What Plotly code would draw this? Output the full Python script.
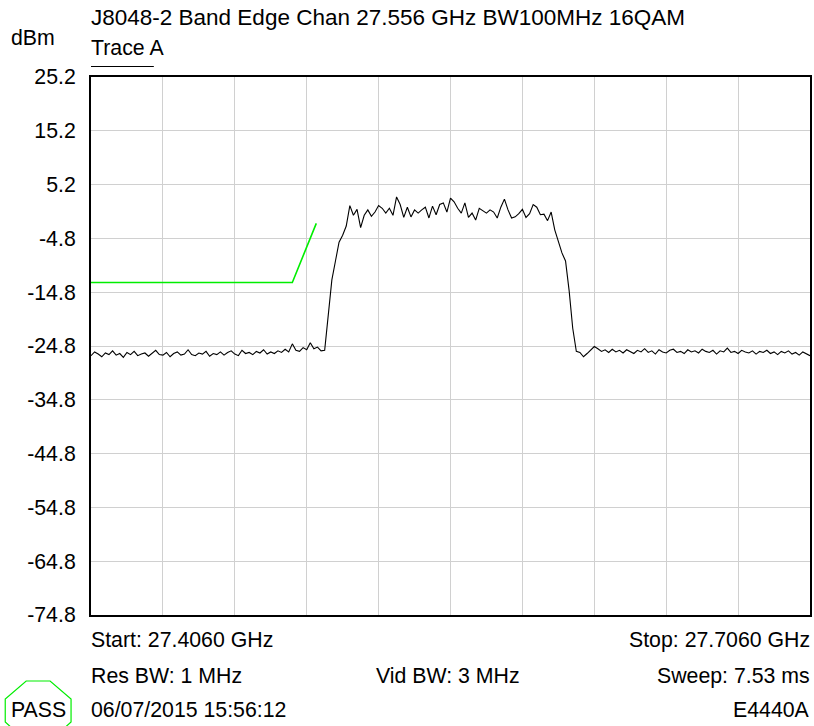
import numpy as np
import plotly.graph_objects as go

# ---------------- data ----------------
start_ghz = 27.406
stop_ghz = 27.706
n_points = 201
freq_ghz = np.linspace(start_ghz, stop_ghz, n_points)

noise_left = [
    -26.6, -25.9, -26.3, -26.8, -26.1, -26.4, -25.7, -26.5, -26.2, -26.9,
    -26.0, -26.4, -25.8, -26.6, -26.3, -26.1, -26.7, -26.2, -25.6, -26.4,
    -26.5, -26.0, -26.8, -26.2, -25.9, -26.5, -26.3, -25.5, -26.4, -26.6,
    -26.1, -26.3, -25.8, -26.7, -26.2, -26.4, -25.9, -26.5, -26.0, -25.7,
    -26.3, -26.6, -25.6, -26.2, -26.0, -26.4, -25.8, -26.1, -25.5, -26.3,
    -25.9, -26.2, -25.7, -26.0, -25.4, -25.9, -24.4, -25.6, -25.8, -25.1,
    -25.5, -24.2, -25.3, -25.0, -25.7,
]
channel = [
    -25.6, -19.5, -12.5, -9.0, -5.5, -4.2, -2.5, 1.3, -0.5, 0.6,
    -2.8, -0.5, 0.5, -0.7, 0.1, 1.3, 0.8, -0.1, 0.8, -0.5,
    2.9, 1.5, -0.9, 1.0, -0.8, 0.5, -0.1, 0.5, 1.0, -1.0,
    1.2, -0.4, 1.5, 1.8, 0.1, 2.7, 2.0, 0.8, -0.1, 1.8,
    -0.9, -0.1, -1.4, 0.8, 0.4, -0.1, 0.5, 0.1, -1.0, 1.0,
    2.5, 0.5, -1.0, -0.8, -0.2, 0.6, -0.9, -0.2, 1.5, 1.0,
    -0.4, -0.3, -1.5, 0.1, -3.2, -5.5, -7.5, -9.0, -14.5, -21.5,
    -25.8, -26.0, -26.8, -26.2, -25.6, -24.9,
]
noise_right = [
    -25.3, -25.8, -25.5, -26.0, -25.4, -25.9, -25.6, -26.1, -25.5, -25.8,
    -26.2, -25.6, -25.9, -25.3, -26.0, -25.7, -26.3, -25.5, -25.9, -26.1,
    -25.6, -25.4, -26.0, -25.8, -26.2, -25.5, -25.9, -25.7, -26.1, -25.4,
    -25.8, -26.0, -25.6, -26.3, -25.7, -25.9, -25.2, -26.0, -25.8, -26.2,
    -25.6, -25.9, -26.1, -25.7, -26.3, -25.8, -26.0, -25.6, -26.2, -25.9,
    -26.4, -25.8, -26.1, -25.7, -26.3, -26.0, -26.5, -25.9, -26.2, -26.6,
]
trace_dbm = noise_left + channel + noise_right

mask_freq_ghz = [27.406, 27.490, 27.500]
mask_dbm = [-13.0, -13.0, -2.0]

y_ticks = [25.2, 15.2, 5.2, -4.8, -14.8, -24.8, -34.8, -44.8, -54.8, -64.8, -74.8]
x_grid = [27.406 + 0.03 * k for k in range(11)]

title_text = "J8048-2 Band Edge Chan 27.556 GHz BW100MHz 16QAM"
unit_text = "dBm"
trace_label = "Trace A"
start_text = "Start: 27.4060 GHz"
stop_text = "Stop: 27.7060 GHz"
rbw_text = "Res BW: 1 MHz"
vbw_text = "Vid BW: 3 MHz"
sweep_text = "Sweep: 7.53 ms"
date_text = "06/07/2015 15:56:12"
model_text = "E4440A"
pass_text = "PASS"

# ---------------- layout helpers ----------------
W, H = 814, 726
L, R, T, B = 91, 812, 77, 615  # plot area in pixels
FONT = "Liberation Sans, Arial, sans-serif"
FS = 21.3


def px(x):
    return (x - L) / (R - L)


def py(y):
    return (B - y) / (B - T)


fig = go.Figure()
fig.add_trace(go.Scatter(x=freq_ghz, y=trace_dbm, mode="lines",
                         line=dict(color="black", width=1.1), showlegend=False))
fig.add_trace(go.Scatter(x=mask_freq_ghz, y=mask_dbm, mode="lines",
                         line=dict(color="#00ee00", width=1.6), showlegend=False))

fig.update_layout(
    width=W, height=H,
    margin=dict(l=L, r=W - R, t=T, b=H - B),
    paper_bgcolor="white", plot_bgcolor="white",
    font=dict(family=FONT, size=FS, color="black"),
    showlegend=False,
)
fig.update_xaxes(range=[start_ghz, stop_ghz], tickvals=x_grid, showticklabels=False,
                 showgrid=True, gridcolor="#d0d0d0", gridwidth=1, zeroline=False,
                 showline=True, linecolor="black", linewidth=2, mirror=True, ticks="")
fig.update_yaxes(range=[-74.8, 25.2], tickvals=y_ticks,
                 ticktext=[f"{v:.1f}" for v in y_ticks],
                 showgrid=True, gridcolor="#d0d0d0", gridwidth=1, zeroline=False,
                 showline=True, linecolor="black", linewidth=2, mirror=True, ticks="",
                 ticklabelstandoff=9, tickfont=dict(family=FONT, size=FS))

ann = []


def text(x, y, s, anchor="left", size=FS):
    ann.append(dict(x=px(x), y=py(y), xref="paper", yref="paper", text=s,
                    showarrow=False, xanchor=anchor, yanchor="middle",
                    font=dict(family=FONT, size=size, color="black")))


text(89, 17, title_text, size=22.5)
text(9, 38, unit_text)
text(89, 48, trace_label)
text(89, 640, start_text)
text(814, 640, stop_text, "right")
text(89, 676, rbw_text)
text(449, 676, vbw_text, "center")
text(814, 676, sweep_text, "right")
text(89, 710, date_text)
text(814, 710, model_text, "right")
text(38, 710, pass_text, "center")
fig.update_layout(annotations=ann)

shapes = [
    dict(type="line", xref="paper", yref="paper", x0=px(91), x1=px(154), y0=py(66.5), y1=py(66.5),
         line=dict(color="black", width=1.2)),
]
octo = [(26, 681), (50, 681), (71, 699), (71, 722), (50, 741), (26, 741), (5, 722), (5, 699)]
path = "M " + " L ".join(f"{px(a):.5f},{py(b):.5f}" for a, b in octo) + " Z"
shapes.append(dict(type="path", xref="paper", yref="paper", path=path,
                   line=dict(color="#00ee00", width=1.2), fillcolor="rgba(0,0,0,0)"))
fig.update_layout(shapes=shapes)

fig.write_html("out.html", config={"displayModeBar": False},
               post_script="document.body.style.margin='0';document.body.style.overflow='hidden';")
